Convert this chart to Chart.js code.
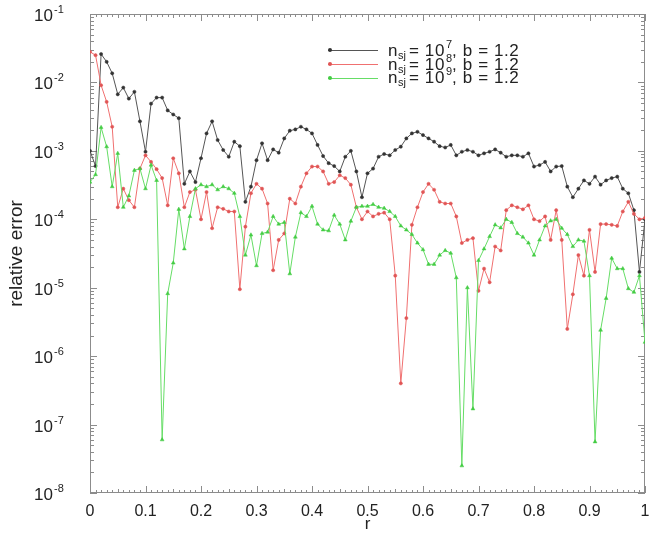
<!DOCTYPE html>
<html>
<head>
<meta charset="utf-8">
<script src="https://cdn.jsdelivr.net/npm/chart.js@4.4.0/dist/chart.umd.min.js"></script>
<style>
  html, body { margin:0; padding:0; background:#fff; }
  #wrap { position:relative; width:650px; height:535px; }
  #legend { position:absolute; left:328px; top:44px; font-family:"Liberation Sans", Arial, sans-serif;
            font-size:17px; letter-spacing:0.6px; color:#222; }
  .row { display:flex; align-items:center; height:13.7px; white-space:nowrap; }
  .smp { position:relative; width:50px; height:0; border-top:1px solid; margin-right:10px; }
  .smp i { position:absolute; left:0; top:-3px; width:4px; height:4px; border-radius:50%; }
  sub, sup { font-size:11px; line-height:0; letter-spacing:0; vertical-align:baseline; position:relative; }
  sub { top:4px; margin-right:3px; }
  sup { top:-7px; margin-left:1px; }
</style>
</head>
<body>
<div id="wrap">
  <canvas id="c" width="650" height="535"></canvas>
  <div id="legend"></div>
</div>
<script>
// ── data: relative error vs r ─────────────────────────
const R = [0,0.01,0.02,0.03,0.04,0.05,0.06,0.07,0.08,0.09,
  0.10,0.11,0.12,0.13,0.14,0.15,0.16,0.17,0.18,0.19,
  0.20,0.21,0.22,0.23,0.24,0.25,0.26,0.27,0.28,0.29,
  0.30,0.31,0.32,0.33,0.34,0.35,0.36,0.37,0.38,0.39,
  0.40,0.41,0.42,0.43,0.44,0.45,0.46,0.47,0.48,0.49,
  0.50,0.51,0.52,0.53,0.54,0.55,0.56,0.57,0.58,0.59,
  0.60,0.61,0.62,0.63,0.64,0.65,0.66,0.67,0.68,0.69,
  0.70,0.71,0.72,0.73,0.74,0.75,0.76,0.77,0.78,0.79,
  0.80,0.81,0.82,0.83,0.84,0.85,0.86,0.87,0.88,0.89,
  0.90,0.91,0.92,0.93,0.94,0.95,0.96,0.97,0.98,0.99,1];

const ERR_N7 = [1.0e-3,6.0e-4,2.6e-2,2.0e-2,1.36e-2,6.7e-3,8.4e-3,5.8e-3,7.3e-3,2.7e-3,
  9.7e-4,4.9e-3,6.0e-3,6.0e-3,3.9e-3,3.4e-3,3.0e-3,3.3e-4,5.0e-4,3.5e-4,
  7.8e-4,1.8e-3,2.7e-3,1.44e-3,1.03e-3,8.2e-4,1.36e-3,1.17e-3,1.8e-4,3.0e-4,
  7.3e-4,1.29e-3,7.3e-4,1.05e-3,9.4e-4,1.52e-3,1.97e-3,2.06e-3,2.25e-3,2.06e-3,
  1.8e-3,1.22e-3,8.4e-4,6.6e-4,6.0e-4,5.0e-4,8.2e-4,1.0e-3,5.0e-4,2.1e-4,
  4.7e-4,5.5e-4,8.2e-4,9.0e-4,8.6e-4,1.03e-3,1.15e-3,1.52e-3,1.8e-3,1.9e-3,
  1.7e-3,1.52e-3,1.36e-3,1.17e-3,1.12e-3,1.22e-3,8.6e-4,9.7e-4,1.03e-3,9.7e-4,
  8.6e-4,9.2e-4,9.7e-4,1.05e-3,9.4e-4,8.2e-4,8.6e-4,8.6e-4,8.2e-4,9.2e-4,
  5.9e-4,6.2e-4,6.9e-4,5.0e-4,5.9e-4,6.0e-4,3.0e-4,2.1e-4,2.8e-4,3.7e-4,
  3.3e-4,4.2e-4,3.2e-4,3.7e-4,4.0e-4,4.2e-4,2.8e-4,2.4e-4,1.36e-4,1.7e-5,1.0e-4];

const ERR_N8 = [2.8e-2,2.5e-2,9.1e-3,5.2e-3,2.25e-3,1.5e-4,2.8e-4,1.9e-4,1.5e-4,5.5e-4,
  8.6e-4,6.9e-4,5.4e-4,4.0e-4,1.6e-4,7.8e-4,4.7e-4,1.5e-4,2.5e-4,2.7e-4,
  1.0e-4,2.5e-4,7.4e-5,1.5e-4,1.42e-4,1.3e-4,1.3e-4,9.5e-6,7.8e-5,2.4e-4,
  3.3e-4,2.8e-4,1.7e-4,1.8e-5,5.0e-5,6.2e-5,2.0e-4,1.7e-4,3.0e-4,4.7e-4,
  5.9e-4,5.9e-4,5.0e-4,3.3e-4,3.5e-4,4.4e-4,4.0e-4,3.2e-4,1.5e-4,1.0e-4,
  1.3e-4,1.1e-4,1.2e-4,1.25e-4,1.0e-4,1.5e-5,4.0e-7,3.6e-6,8.3e-5,1.5e-4,
  2.5e-4,3.3e-4,2.7e-4,1.8e-4,1.7e-4,1.7e-4,1.1e-4,4.5e-5,5.0e-5,5.3e-5,
  9.0e-6,1.9e-5,1.2e-5,4.0e-5,3.5e-5,1.36e-4,1.6e-4,1.5e-4,1.4e-4,1.6e-4,
  1.0e-4,9.4e-5,1.1e-4,5.0e-5,1.36e-4,5.0e-5,2.5e-6,8.0e-6,3.0e-5,1.5e-5,
  7.0e-5,1.7e-5,8.5e-5,8.5e-5,8.3e-5,8.0e-5,1.3e-4,1.8e-4,1.2e-4,1.0e-4,1.05e-4];

const ERR_N9 = [3.5e-4,4.5e-4,2.2e-3,1.15e-3,3.0e-4,9.2e-4,1.5e-4,2.2e-4,5.2e-4,5.5e-4,
  2.8e-4,6.2e-4,3.7e-4,6.0e-8,8.2e-6,2.3e-5,1.4e-4,3.7e-5,1.1e-4,2.8e-4,
  3.2e-4,3.0e-4,3.2e-4,2.7e-4,3.0e-4,2.8e-4,2.4e-4,1.1e-4,3.0e-5,5.9e-5,
  2.1e-5,6.2e-5,6.5e-5,1.1e-4,8.5e-5,9.0e-5,1.6e-5,5.5e-5,1.25e-4,1.1e-4,
  1.55e-4,8.5e-5,7.0e-5,6.8e-5,1.15e-4,8.5e-5,5.0e-5,9.4e-5,1.5e-4,1.55e-4,
  1.55e-4,1.65e-4,1.5e-4,1.45e-4,1.3e-4,1.1e-4,8.0e-5,7.0e-5,6.0e-5,4.5e-5,
  3.6e-5,2.2e-5,2.2e-5,3.0e-5,3.5e-5,3.2e-5,1.4e-5,2.5e-8,1.0e-5,1.7e-7,
  2.5e-5,3.7e-5,5.6e-5,8.3e-5,7.5e-5,1.0e-4,9.0e-5,6.2e-5,5.5e-5,4.5e-5,
  3.0e-5,5.0e-5,8.0e-5,9.5e-5,1.0e-4,7.4e-5,6.0e-5,4.0e-5,5.0e-5,4.8e-5,
  1.5e-5,5.6e-8,2.4e-6,7.0e-6,2.7e-5,1.9e-5,1.9e-5,9.7e-6,8.6e-6,1.5e-5,1.6e-6];

const SERIES_EXP = [7, 8, 9];
const X_TICKS  = [0,0.1,0.2,0.3,0.4,0.5,0.6,0.7,0.8,0.9,1];
const X_LABELS = ["0","0.1","0.2","0.3","0.4","0.5","0.6","0.7","0.8","0.9","1"];
const Y_TICKS  = [1e-8,1e-7,1e-6,1e-5,1e-4,1e-3,1e-2,1e-1];

const FONT   = '"Liberation Sans", Arial, sans-serif';
const LINE   = ["#555555", "#f07070", "#66dd66"];
const MARK   = ["#333333", "#e05555", "#44cc44"];
const SHAPES = ["circle", "circle", "triangle"];

// ── frame, inward ticks and 10^n labels ──────────────
const frameTicks = {
  id: "frameTicks",
  beforeDatasetsDraw(chart) {
    const { ctx, chartArea: a, scales: { x, y } } = chart;
    ctx.save();
    ctx.strokeStyle = "#8c8c8c";
    ctx.lineWidth = 1;
    ctx.strokeRect(a.left + 0.5, a.top + 0.5, a.right - a.left - 1, a.bottom - a.top - 1);
    ctx.beginPath();
    for (let i = 0; i <= 100; i++) {
      const px = Math.round(x.getPixelForValue(i / 100)) + 0.5;
      const len = i % 10 === 0 ? 7 : (i % 5 === 0 ? 4 : 3);
      ctx.moveTo(px, a.bottom); ctx.lineTo(px, a.bottom - len);
      ctx.moveTo(px, a.top);    ctx.lineTo(px, a.top + len);
    }
    for (let e = -8; e <= -1; e++) {
      for (let m = 1; m <= 9; m++) {
        if (e === -1 && m > 1) break;
        const py = Math.round(y.getPixelForValue(m * Math.pow(10, e))) + 0.5;
        const len = m === 1 ? 7 : 4;
        ctx.moveTo(a.left, py);  ctx.lineTo(a.left + len, py);
        ctx.moveTo(a.right, py); ctx.lineTo(a.right - len, py);
      }
    }
    ctx.stroke();

    ctx.fillStyle = "#222";
    Y_TICKS.forEach(v => {
      const py = y.getPixelForValue(v);
      ctx.font = "17px " + FONT;
      ctx.textAlign = "right";
      ctx.textBaseline = "alphabetic";
      ctx.fillText("10", 53, py + 7);
      ctx.font = "11px " + FONT;
      ctx.textAlign = "left";
      ctx.fillText(String(Math.round(Math.log10(v))), 54, py - 1);
    });
    ctx.restore();
  }
};

const datasets = [ERR_N7, ERR_N8, ERR_N9].map((vals, s) => ({
  label: "n_sj = 10^" + SERIES_EXP[s] + ", b = 1.2",
  data: R.map((r, i) => ({ x: r, y: vals[i] })),
  borderColor: LINE[s],
  backgroundColor: MARK[s],
  pointBorderColor: MARK[s],
  pointBackgroundColor: MARK[s],
  borderWidth: 1,
  pointStyle: SHAPES[s],
  pointRadius: s === 2 ? 2.2 : 1.6,
  pointBorderWidth: 0.5,
  order: 2 - s,
  fill: false,
  tension: 0
}));

new Chart(document.getElementById("c"), {
  type: "line",
  data: { datasets },
  plugins: [frameTicks],
  options: {
    responsive: false,
    animation: false,
    layout: { padding: { left: 0, right: 5, top: 14, bottom: 0 } },
    plugins: { legend: { display: false }, tooltip: { enabled: false } },
    scales: {
      x: {
        type: "linear", min: 0, max: 1,
        afterBuildTicks: s => { s.ticks = X_TICKS.map(v => ({ value: v })); },
        ticks: { callback: (v, i) => X_LABELS[i], autoSkip: false, maxRotation: 0,
                 font: { family: FONT, size: 16 }, color: "#222", padding: 1 },
        grid: { display: false }, border: { display: false },
        title: { display: true, text: "r", color: "#222", font: { family: FONT, size: 17 },
                 padding: { top: 3, bottom: 0 } },
        afterFit: s => { s.height = 42; s.paddingLeft = 0; s.paddingRight = 0; }
      },
      y: {
        type: "logarithmic", min: 1e-8, max: 1e-1,
        ticks: { display: false },
        grid: { display: false }, border: { display: false },
        title: { display: true, text: "relative error", color: "#222",
                 font: { family: FONT, size: 19 }, padding: { top: 5, bottom: 0 } },
        afterFit: s => { s.width = 90; s.paddingTop = 0; s.paddingBottom = 0; }
      }
    }
  }
});

// ── legend (inside plot, upper right) ─────────────────
document.getElementById("legend").innerHTML = SERIES_EXP.map((ex, s) =>
  `<div class="row"><span class="smp" style="border-color:${LINE[s]}"><i style="background:${MARK[s]}"></i></span>` +
  `n<sub>sj</sub>= 10<sup>${ex}</sup>, b = 1.2</div>`).join("");
</script>
</body>
</html>
